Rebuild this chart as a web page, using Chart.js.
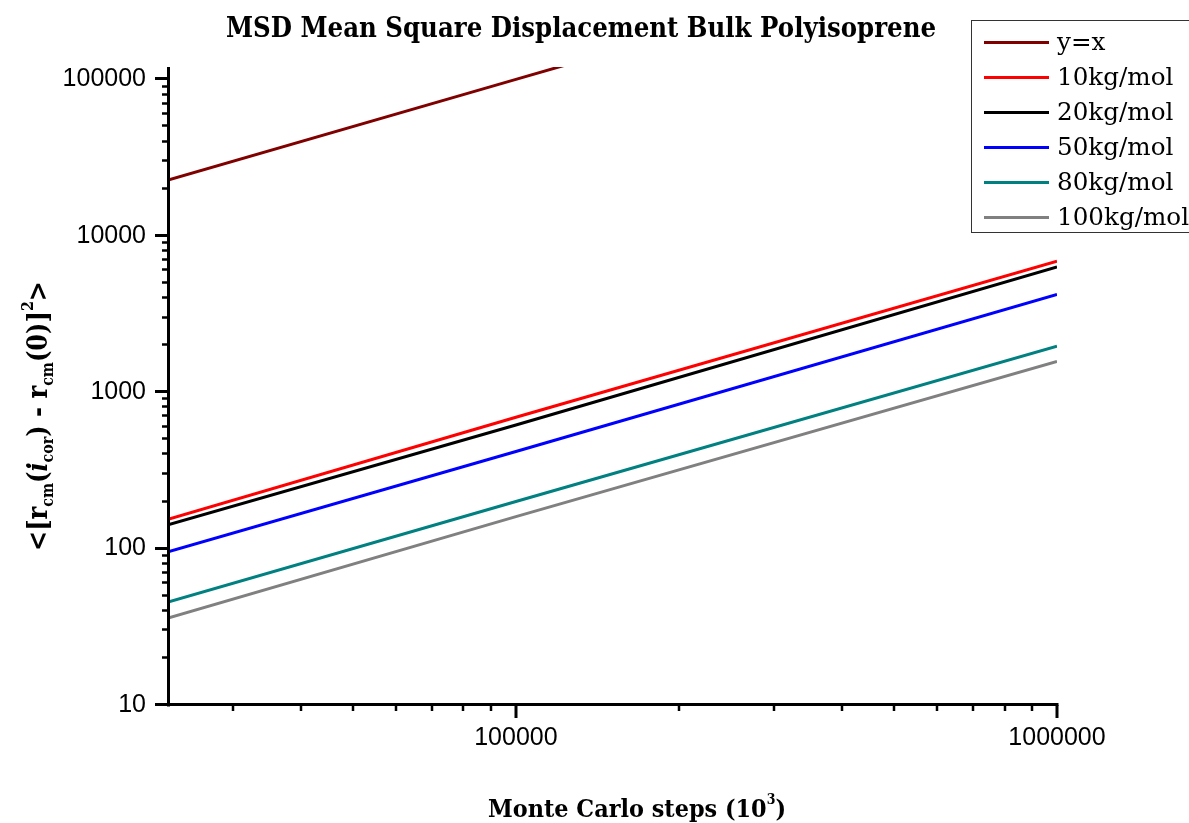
<!DOCTYPE html>
<html>
<head>
<meta charset="utf-8">
<title>MSD Mean Square Displacement Bulk Polyisoprene</title>
<script src="https://cdn.jsdelivr.net/npm/chart.js@4.4.1/dist/chart.umd.min.js"></script>
<style>
  html, body { margin: 0; padding: 0; background: #ffffff; }
  canvas { display: block; }
</style>
</head>
<body>
<canvas id="msd" width="1189" height="823"></canvas>
<script>
// Monte Carlo steps (10^3) at which each curve is sampled
const steps = [22750, 100000, 1000000];

// Series labels and mean square displacement values
const seriesNames = ['y=x', '10kg/mol', '20kg/mol', '50kg/mol', '80kg/mol', '100kg/mol'];
const yEqualsX = [22750, 100000, 1000000];
const msd10 = [154, 692, 6870];
const msd20 = [142, 617, 6320];
const msd50 = [95.4, 418, 4210];
const msd80 = [45.5, 200, 1968];
const msd100 = [36.0, 160, 1571];

const seriesColors = ['#800000', '#ff0000', '#000000', '#0000ff', '#008080', '#808080'];

// Axis ticks (every tick gets a mark, only decades get a label)
const xTickValues = [30000, 40000, 50000, 60000, 70000, 80000, 90000,
  100000, 200000, 300000, 400000, 500000, 600000, 700000, 800000, 900000, 1000000];
const xTickLabels = [100000, 1000000];
const yTickValues = [10, 20, 30, 40, 50, 60, 70, 80, 90,
  100, 200, 300, 400, 500, 600, 700, 800, 900,
  1000, 2000, 3000, 4000, 5000, 6000, 7000, 8000, 9000,
  10000, 20000, 30000, 40000, 50000, 60000, 70000, 80000, 90000, 100000];
const yTickLabels = [10, 100, 1000, 10000, 100000];

const allSeries = [yEqualsX, msd10, msd20, msd50, msd80, msd100];

const SERIF = "'DejaVu Serif', 'Liberation Serif', serif";
const SANS = "'Liberation Sans', Arial, sans-serif";

function fontOf(p) {
  return (p.italic ? 'italic ' : '') + (p.bold === false ? '' : 'bold ') + p.size + 'px ' + SERIF;
}

// Draws a run of text pieces (with sub/superscripts) centred on cx,
// squeezed horizontally to a given total width.
function drawRich(ctx, parts, cx, baseline, targetWidth) {
  let w = 0;
  for (const p of parts) { ctx.font = fontOf(p); w += ctx.measureText(p.t).width; }
  const sx = targetWidth ? targetWidth / w : 1;
  ctx.save();
  ctx.translate(cx, baseline);
  ctx.scale(sx, 1);
  ctx.textAlign = 'left';
  ctx.textBaseline = 'alphabetic';
  ctx.fillStyle = '#000';
  let x = -w / 2;
  for (const p of parts) {
    ctx.font = fontOf(p);
    ctx.fillText(p.t, x, p.dy || 0);
    x += ctx.measureText(p.t).width;
  }
  ctx.restore();
}

const decorations = {
  id: 'decorations',
  afterDatasetsDraw(chart) {
    const ctx = chart.ctx;
    const a = chart.chartArea;
    const xs = chart.scales.x, ys = chart.scales.y;
    ctx.save();
    ctx.strokeStyle = '#000';
    ctx.lineCap = 'butt';

    // axis lines
    ctx.lineWidth = 3;
    ctx.beginPath();
    ctx.moveTo(a.left + 0.5, a.top);
    ctx.lineTo(a.left + 0.5, a.bottom + 1.5);
    ctx.moveTo(a.left - 1, a.bottom - 0.5);
    ctx.lineTo(a.right + 1.5, a.bottom - 0.5);
    ctx.stroke();

    // x tick marks
    for (const v of xTickValues) {
      const px = Math.round(xs.getPixelForValue(v));
      const major = xTickLabels.includes(v);
      ctx.lineWidth = major ? 3 : 2.5;
      ctx.beginPath();
      ctx.moveTo(px, a.bottom);
      ctx.lineTo(px, a.bottom + (major ? 13 : 6));
      ctx.stroke();
    }
    // y tick marks
    for (const v of yTickValues) {
      const py = Math.round(ys.getPixelForValue(v));
      const major = yTickLabels.includes(v);
      ctx.lineWidth = major ? 3 : 2.5;
      ctx.beginPath();
      ctx.moveTo(a.left, py - 0.5);
      ctx.lineTo(a.left - (major ? 13 : 6), py - 0.5);
      ctx.stroke();
    }
    ctx.restore();

    // chart title
    drawRich(ctx, [{ t: 'MSD Mean Square Displacement Bulk Polyisoprene', size: 28 }], 581, 37, 710);

    // x axis title
    drawRich(ctx, [
      { t: 'Monte Carlo steps (10', size: 25 },
      { t: '3', size: 14, dy: -13 },
      { t: ')', size: 25 }
    ], 637, 817, 298);

    // y axis title (rotated)
    ctx.save();
    ctx.translate(47, 416);
    ctx.rotate(-Math.PI / 2);
    drawRich(ctx, [
      { t: '<[r', size: 27 },
      { t: 'cm', size: 16, dy: 6 },
      { t: '(', size: 27 },
      { t: 'i', size: 27, italic: true },
      { t: 'cor', size: 16, dy: 6 },
      { t: ') - r', size: 27 },
      { t: 'cm', size: 16, dy: 6 },
      { t: '(0)]', size: 27 },
      { t: '2', size: 16, dy: -14 },
      { t: '>', size: 27 }
    ], 0, 0, 270);
    ctx.restore();

    // legend
    ctx.save();
    ctx.fillStyle = '#fff';
    ctx.fillRect(971, 20, 240, 212);
    ctx.strokeStyle = '#333';
    ctx.lineWidth = 1;
    ctx.strokeRect(971.5, 20.5, 240, 212);
    ctx.font = '24px ' + SERIF;
    const sx = 132 / ctx.measureText('100kg/mol').width;
    chart.data.datasets.forEach((ds, i) => {
      const cy = 42 + i * 35;
      ctx.strokeStyle = ds.borderColor;
      ctx.lineWidth = 3;
      ctx.beginPath();
      ctx.moveTo(984, cy + 0.5);
      ctx.lineTo(1049, cy + 0.5);
      ctx.stroke();
      ctx.save();
      ctx.translate(1057, cy + 2);
      ctx.scale(sx, 1);
      ctx.fillStyle = '#000';
      ctx.textAlign = 'left';
      ctx.textBaseline = 'middle';
      ctx.fillText(ds.label, 0, 0);
      ctx.restore();
    });
    ctx.restore();
  }
};

new Chart(document.getElementById('msd'), {
  type: 'line',
  data: {
    datasets: seriesNames.map((name, i) => ({
      label: name,
      data: steps.map((s, j) => ({ x: s, y: allSeries[i][j] })),
      borderColor: seriesColors[i],
      backgroundColor: seriesColors[i],
      borderWidth: 3,
      pointRadius: 0,
      tension: 0,
      fill: false
    }))
  },
  options: {
    responsive: false,
    animation: false,
    devicePixelRatio: 1,
    layout: { padding: { left: 0, top: 67, right: 132, bottom: 0 } },
    plugins: { legend: { display: false }, title: { display: false }, tooltip: { enabled: false } },
    scales: {
      x: {
        type: 'logarithmic',
        min: 22750,
        max: 1000000,
        grid: { display: false, drawTicks: false },
        border: { display: false },
        afterBuildTicks: s => { s.ticks = xTickValues.map(v => ({ value: v })); },
        afterFit: s => { s.height = 118; },
        ticks: {
          autoSkip: false, maxRotation: 0, minRotation: 0, padding: 18,
          color: '#000', font: { family: SANS, size: 25 },
          callback: v => xTickLabels.includes(v) ? String(v) : ''
        }
      },
      y: {
        type: 'logarithmic',
        min: 10,
        max: 120000,
        grid: { display: false, drawTicks: false },
        border: { display: false },
        afterBuildTicks: s => { s.ticks = yTickValues.map(v => ({ value: v })); },
        afterFit: s => { s.width = 168; },
        ticks: {
          autoSkip: false, padding: 22,
          color: '#000', font: { family: SANS, size: 25 },
          callback: v => yTickLabels.includes(v) ? String(v) : ''
        }
      }
    }
  },
  plugins: [decorations]
});
</script>
</body>
</html>
